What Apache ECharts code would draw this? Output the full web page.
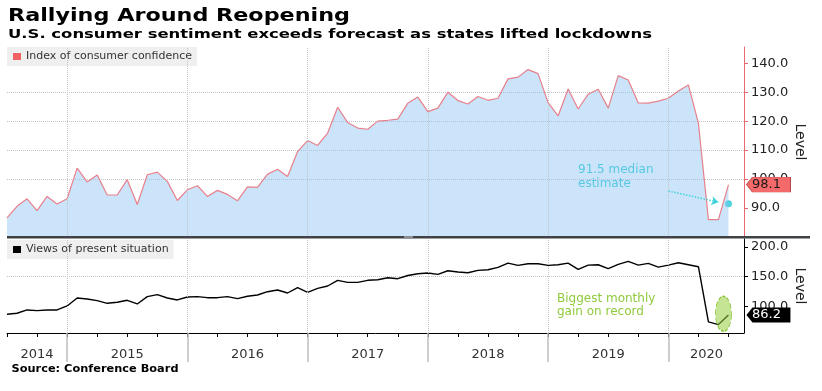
<!DOCTYPE html>
<html><head><meta charset="utf-8">
<script src="https://cdn.jsdelivr.net/npm/echarts@6/dist/echarts.min.js"></script>
<style>html,body{margin:0;padding:0;background:#fff}#c{width:822px;height:391px}</style>
</head><body><div id="c"></div>
<script>
// ---- data (monthly, Jun 2014 .. Jun 2020) ----
const confidence = [
  86.6, 90.6, 93.2, 89.1, 94.0, 91.4, 93.2,
  103.8, 99.0, 101.4, 94.5, 94.5, 99.8, 91.2, 101.5, 102.4, 99.2, 92.6, 96.3,
  97.7, 94.0, 96.1, 94.7, 92.5, 97.3, 97.1, 101.7, 103.4, 100.9, 109.5, 113.3,
  111.6, 115.9, 124.8, 119.5, 117.6, 117.2, 120.0, 120.3, 120.7, 126.2, 128.3, 123.3,
  124.5, 130.0, 127.1, 125.9, 128.5, 127.2, 127.9, 134.6, 135.2, 137.8, 136.4, 126.4,
  121.8, 131.1, 124.2, 129.3, 131.0, 124.5, 135.7, 134.2, 126.3, 126.2, 126.9, 127.9,
  130.4, 132.5, 119.3, 86.0, 86.0, 98.1
];
const presentSituation = [
  87.3, 89.0, 94.5, 93.3, 94.5, 94.5, 101.2,
  114.5, 112.8, 110.0, 105.6, 107.3, 110.6, 104.5, 116.7, 120.0, 114.5, 111.2, 116.2,
  116.7, 115.0, 115.0, 116.7, 113.4, 117.3, 119.5, 125.0, 127.8, 122.8, 131.7, 124.0,
  130.6, 134.5, 144.0, 140.6, 140.6, 144.0, 145.0, 148.3, 146.7, 152.0, 155.0, 156.2,
  154.0, 160.0, 157.8, 156.7, 160.6, 161.7, 165.6, 172.8, 169.0, 171.7, 171.7, 169.0,
  170.0, 172.8, 162.2, 169.4, 170.0, 163.4, 170.6, 175.6, 169.4, 172.2, 166.1, 169.4,
  173.3, 170.0, 166.7, 74.5, 70.0, 86.2
];
const medianEstimate = 91.5;
// x is measured in months since 1 Jan 2014; a month's value sits at its month end
const firstMonthEnd = 6;          // end of June 2014
const xMin = 6, xMax = 79.55;
const yearStarts = [12, 24, 36, 48, 60, 72];
const yearLabelPos = [9, 18, 30, 42, 54, 66, 75.8];
const yearNames = ['2014', '2015', '2016', '2017', '2018', '2019', '2020'];
const quarterTicks = [];
for (let t = 6; t <= 78; t += 3) quarterTicks.push(t);
const topTicks = [90, 100, 110, 120, 130, 140];
const bottomTicks = [100, 150, 200];
const confName = 'Index of consumer confidence';
const presName = 'Views of present situation';
const titleText = 'Rallying Around Reopening';
const subtitleText = 'U.S. consumer sentiment exceeds forecast as states lifted lockdowns';
const sourceText = 'Source: Conference Board';

const FONT = '"DejaVu Sans"';
const confData = confidence.map((v, i) => [firstMonthEnd + i, v]);
const presData = presentSituation.map((v, i) => [firstMonthEnd + i, v]);
const lastX = firstMonthEnd + confidence.length - 1;

const ctx = document.createElement('canvas').getContext('2d');
function fitScale(text, font, target) {
  ctx.font = font;
  return target / ctx.measureText(text).width;
}
function textEl(text, x, y, sizeFont, target, fill) {
  return {
    type: 'text', x: x, y: y, scaleX: fitScale(text, sizeFont, target), silent: true,
    style: { text: text, x: 0, y: 0, font: sizeFont, fill: fill, verticalAlign: 'middle', align: 'left' }
  };
}
const yearLineMark = (color, type, width) => ({
  silent: true, symbol: 'none', animation: false,
  label: { show: false },
  lineStyle: { color: color, type: type, width: width },
  emphasis: { disabled: true },
  data: yearStarts.map(t => ({ xAxis: t }))
});
const tagPath = 'path://M0,7.5L6,0L44,0L44,15L6,15Z';

const chart = echarts.init(document.getElementById('c'), null, { renderer: 'canvas' });
chart.setOption({
  animation: false,
  textStyle: { fontFamily: FONT },
  grid: [
    { left: 7, right: 78, top: 47, height: 190 },
    { left: 7, right: 78, top: 239, height: 94 },
    { left: 7, right: 78, top: 333, height: 29 }
  ],
  legend: [
    { left: 7, top: 47, padding: [4, 5, 4, 6], itemWidth: 8, itemHeight: 7, icon: 'rect', selectedMode: false,
      backgroundColor: '#efefef', textStyle: { fontSize: 11, color: '#333', fontFamily: FONT },
      data: [{ name: confName, itemStyle: { color: '#f26464' } }] },
    { left: 7, top: 240, padding: [4, 5, 4, 6], itemWidth: 8, itemHeight: 7, icon: 'rect', selectedMode: false,
      backgroundColor: '#efefef', textStyle: { fontSize: 11, color: '#333', fontFamily: FONT },
      data: [{ name: presName, itemStyle: { color: '#000' } }] }
  ],
  xAxis: [
    { gridIndex: 0, type: 'value', min: xMin, max: xMax, interval: 3, show: false },
    { gridIndex: 1, type: 'value', min: xMin, max: xMax, interval: 3,
      axisLine: { show: true, lineStyle: { color: '#000', width: 1 } },
      axisTick: { show: true, length: 4, customValues: quarterTicks, lineStyle: { color: '#000' } },
      axisLabel: { show: false }, splitLine: { show: false } },
    { gridIndex: 2, type: 'value', min: xMin, max: xMax, interval: 1,
      axisLine: { show: false }, axisTick: { show: false }, splitLine: { show: false },
      axisLabel: { show: true, inside: true, margin: 1, customValues: yearLabelPos,
        formatter: v => { const k = yearLabelPos.indexOf(v); return k >= 0 ? yearNames[k] : ''; },
        fontSize: 13, color: '#333', fontFamily: FONT } }
  ],
  yAxis: [
    { gridIndex: 0, type: 'value', position: 'right', min: 80, max: 145.6, interval: 10,
      axisLine: { show: true, lineStyle: { color: '#ea6770', width: 1 } },
      axisTick: { show: true, length: 4, customValues: topTicks, lineStyle: { color: '#ea6770' } },
      axisLabel: { customValues: topTicks, formatter: v => v.toFixed(1), color: '#222', fontSize: 13, margin: 7, fontFamily: FONT },
      splitLine: { show: true, showMinLine: false, showMaxLine: false, lineStyle: { color: '#c4c4c4', type: 'dotted', width: 1 } },
      name: 'Level', nameLocation: 'middle', nameRotate: -90, nameGap: 49, nameMoveOverlap: false,
      nameTextStyle: { fontSize: 14, color: '#222', fontFamily: FONT } },
    { gridIndex: 1, type: 'value', position: 'right', min: 56, max: 213, splitNumber: 3,
      axisLine: { show: true, lineStyle: { color: '#000', width: 1 } },
      axisTick: { show: true, length: 4, customValues: bottomTicks, lineStyle: { color: '#000' } },
      axisLabel: { customValues: bottomTicks, formatter: v => v.toFixed(1), color: '#222', fontSize: 13, margin: 7, fontFamily: FONT },
      splitLine: { show: true, showMinLine: false, showMaxLine: false, lineStyle: { color: '#c4c4c4', type: 'dotted', width: 1 } },
      name: 'Level', nameLocation: 'middle', nameRotate: -90, nameGap: 49, nameMoveOverlap: false,
      nameTextStyle: { fontSize: 14, color: '#222', fontFamily: FONT } },
    { gridIndex: 2, type: 'value', min: 0, max: 1, show: false }
  ],
  series: [
    { name: confName, type: 'line', xAxisIndex: 0, yAxisIndex: 0, data: confData,
      symbol: 'none', silent: true,
      lineStyle: { color: '#e8808b', width: 1.2 },
      itemStyle: { color: '#e8808b' },
      areaStyle: { color: 'rgb(140,195,245)', opacity: 0.45 },
      markLine: yearLineMark('#c4c4c4', 'dotted', 1),
      markPoint: { silent: true, animation: false,
        data: [{ coord: [lastX, confidence[confidence.length - 1]], value: confidence[confidence.length - 1] }],
        symbol: tagPath, symbolSize: [44, 15], symbolOffset: [40, 0], symbolKeepAspect: false,
        itemStyle: { color: '#f46a6a', borderColor: '#b94848', borderWidth: 0.6 },
        label: { show: true, position: 'inside', offset: [-2, 0], formatter: p => p.value.toFixed(1), color: '#1a1a1a', fontSize: 13, fontFamily: FONT } } },
    { name: 'Median estimate', type: 'scatter', xAxisIndex: 0, yAxisIndex: 0,
      data: [[lastX, medianEstimate]], symbolSize: 7, silent: true,
      itemStyle: { color: '#1fc8d2' },
      markLine: { silent: true, animation: false, symbol: ['none', 'arrow'], symbolSize: 7,
        label: { show: false },
        lineStyle: { color: '#3fd2da', type: 'dotted', width: 1.5 },
        data: [[{ coord: [72, 95.9] }, { coord: [77, 92.0] }]] } },
    { name: presName, type: 'line', xAxisIndex: 1, yAxisIndex: 1, data: presData,
      symbol: 'none', silent: true, z: 3,
      lineStyle: { color: '#000', width: 1.4 },
      itemStyle: { color: '#000' },
      markLine: yearLineMark('#c4c4c4', 'dotted', 1),
      markPoint: { silent: true, animation: false,
        data: [
          { coord: [77.5, 88], symbol: 'circle', symbolSize: [16, 35],
            itemStyle: { color: 'rgba(150,205,60,0.55)', borderColor: '#7fbf30', borderType: 'dashed', borderWidth: 1 },
            label: { show: false } },
          { coord: [lastX, presentSituation[presentSituation.length - 1]], value: presentSituation[presentSituation.length - 1],
            symbol: tagPath, symbolSize: [44, 15], symbolOffset: [40, 0], symbolKeepAspect: false,
            itemStyle: { color: '#000' },
            label: { show: true, position: 'inside', offset: [-2, 0], formatter: p => p.value.toFixed(1), color: '#fff', fontSize: 13, fontFamily: FONT } }
        ] } },
    { name: 'year strip', type: 'line', xAxisIndex: 2, yAxisIndex: 2, data: [], silent: true,
      markLine: yearLineMark('#bdbdbd', 'solid', 1.5) }
  ],
  graphic: [
    textEl(titleText, 8, 16.5, 'bold 17.5px "DejaVu Sans"', 342, '#000'),
    textEl(subtitleText, 8, 35, 'bold 12px "DejaVu Sans"', 644, '#000'),
    textEl(sourceText, 11.5, 369, 'bold 10.5px "DejaVu Sans"', 167, '#000'),
    { type: 'text', x: 578, y: 163, silent: true,
      style: { text: '91.5 median\nestimate', font: '12px "DejaVu Sans"', fill: '#2ccdd5', lineHeight: 14, verticalAlign: 'top' } },
    { type: 'text', x: 557, y: 292, silent: true,
      style: { text: 'Biggest monthly\ngain on record', font: '12px "DejaVu Sans"', fill: '#8fca3c', lineHeight: 13, verticalAlign: 'top' } },
    { type: 'rect', silent: true, z: 10, shape: { x: 7, y: 236, width: 803, height: 2.5 }, style: { fill: '#3f4347' } },
    { type: 'rect', silent: true, z: 11, shape: { x: 404, y: 236, width: 9, height: 2.5 }, style: { fill: '#8a8e92' } }
  ]
});
</script>
</body></html>
